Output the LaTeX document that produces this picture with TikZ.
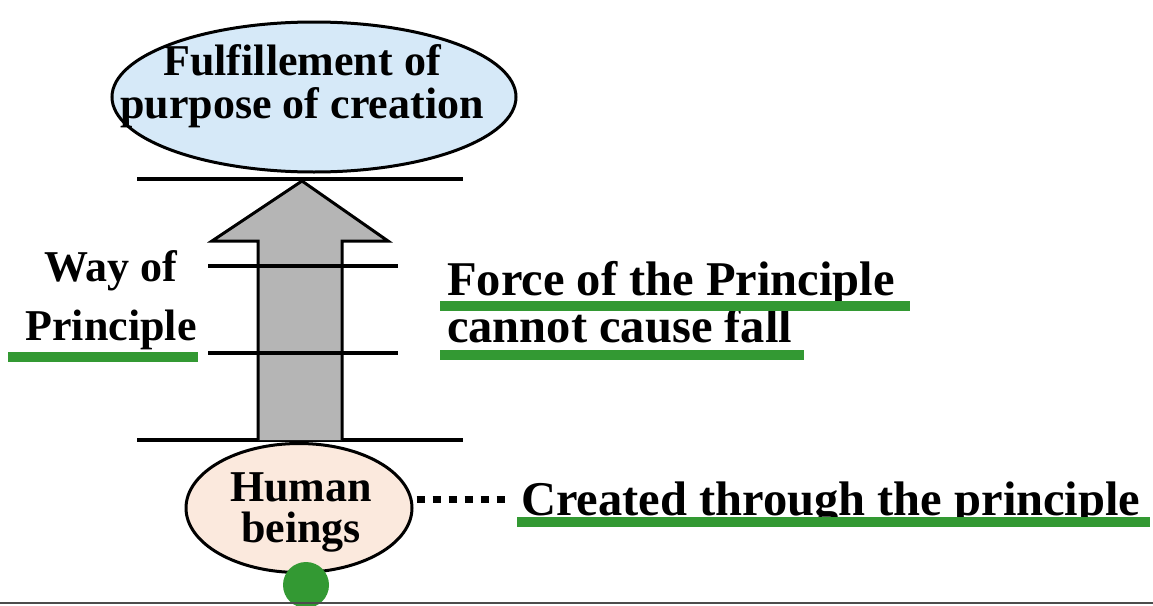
\documentclass[tikz,border=0pt]{standalone}
\usepackage{fontspec}
\setmainfont{Liberation Serif}
\usetikzlibrary{shapes.geometric}
\definecolor{skyfill}{HTML}{D6E9F8}
\definecolor{peachfill}{HTML}{FBE9DD}
\definecolor{shaftgray}{HTML}{B5B5B5}
\definecolor{markgreen}{HTML}{339933}
\begin{document}
\begin{tikzpicture}[x=1pt,y=-1pt,
  bubble/.style={draw=black,line width=3pt,ellipse,inner sep=0pt},
  txt/.style={inner sep=0pt,font=\bfseries\fontsize{44}{43}\selectfont,align=center},
  rtxt/.style={inner sep=0pt,font=\bfseries\fontsize{48.5}{48}\selectfont,anchor=base west},
  bar/.style={line width=4pt,black},
  underl/.style={line width=10pt,markgreen}]
\useasboundingbox (0,0) rectangle (1153,605);
% top ellipse
\node[bubble,fill=skyfill,minimum width=404pt,minimum height=150pt] (goal) at (314,97) {};
\node[txt] (goaltxt) at (302,86) {Fulfillement of\\purpose of creation};
% horizontal bars
\draw[bar] (137,179) -- (463,179);
\draw[bar] (137,440) -- (463,440);
% arrow
\draw[line width=3pt,fill=shaftgray,line join=miter]
  (258,440) -- (258,241) -- (212,241) -- (302,181) -- (388,241) -- (342,241) -- (342,440);
\draw[bar] (208,266) -- (398,266);
\draw[bar] (208,353) -- (398,353);
% bottom ellipse
\node[bubble,fill=peachfill,minimum width=226pt,minimum height=129pt] (human) at (299,508) {};
\node[txt,font=\bfseries\fontsize{44}{41}\selectfont] (humantxt) at (301,512) {Human\\beings};
% left label
\node[txt] (way) at (111,300) {Way of\\[16pt]Principle};
% right labels
\node[rtxt] (force) at (447,295) {Force of the Principle};
\node[rtxt] (cannot) at (447,342) {cannot cause fall};
\node[rtxt] (created) at (521,515) {Created through the principle};
\coordinate (dotend) at (507,499);
% dotted connector
\draw[line width=7pt,dash pattern=on 8pt off 8pt] (human.east |- dotend) ++(3,0) -- (dotend);
% green underlines
\draw[underl] (8,357) -- (198,357);
\draw[underl] (440,306) -- (910,306);
\draw[underl] (440,355) -- (804,355);
\draw[underl] (517,522) -- (1150,522);
% green dot
\fill[markgreen] (306,585) circle (23pt);
% bottom rule
\draw[line width=2pt,black!70] (0,603) -- (1153,603);
\end{tikzpicture}
\end{document}
